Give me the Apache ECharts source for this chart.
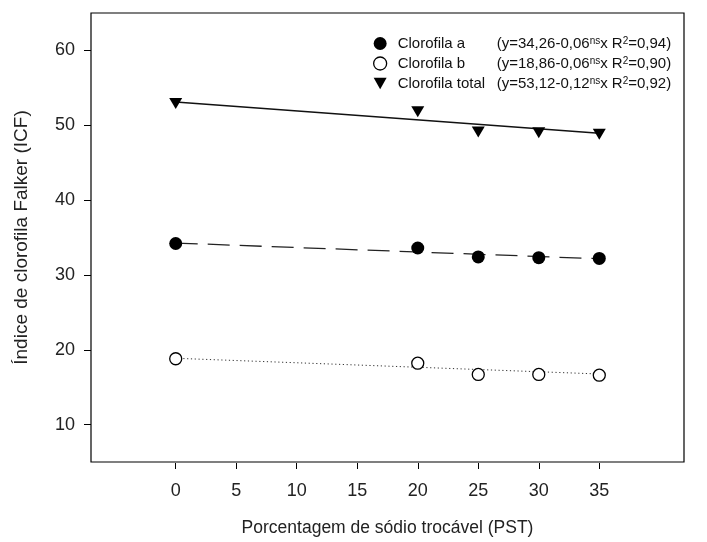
<!DOCTYPE html>
<html>
<head>
<meta charset="utf-8">
<script src="https://cdn.jsdelivr.net/npm/echarts@6/dist/echarts.min.js"></script>
<style>
  html, body { margin: 0; padding: 0; background: #fff; }
  #chart { width: 707px; height: 542px; }
</style>
</head>
<body>
<div id="chart"></div>
<script>
// Sodium percentage levels (PST)
const pst = [0, 20, 25, 30, 35];
// Falker chlorophyll index readings
const clorofilaA = [34.2, 33.6, 32.4, 32.3, 32.2];
const clorofilaB = [18.8, 18.2, 16.7, 16.7, 16.6];
const clorofilaTotal = [52.9, 51.8, 49.1, 49.0, 48.8];

// Fitted regression lines, drawn between the first and last level
const fitX = [0, 35];
const fitA = [34.26, 32.16];
const fitB = [18.86, 16.76];
const fitTotal = [53.12, 48.92];

// Axis tick labels
const xTicks = [0, 5, 10, 15, 20, 25, 30, 35];
const yTicks = [10, 20, 30, 40, 50, 60];

// Equation legend text pieces
const equations = {
  'Clorofila a': ['(y=34,26-0,06', 'x R', '=0,94)'],
  'Clorofila b': ['(y=18,86-0,06', 'x R', '=0,90)'],
  'Clorofila total': ['(y=53,12-0,12', 'x R', '=0,92)']
};

const pairs = (xs, ys) => xs.map((x, i) => [x, ys[i]]);
const FONT = 'Liberation Sans, Arial, sans-serif';
const triDown = 'path://M0,0 L10,0 L5,8.7 Z';
const openStyle = { color: '#fff', borderColor: '#000', borderWidth: 1.3, opacity: 1 };

const chart = echarts.init(document.getElementById('chart'), null, { renderer: 'canvas' });

chart.setOption({
  animation: false,
  backgroundColor: '#fff',
  textStyle: { fontFamily: FONT, color: '#000' },
  grid: {
    left: 91, top: 13, right: 23, bottom: 80,
    show: true, borderColor: '#000', borderWidth: 1.2, backgroundColor: 'transparent'
  },
  xAxis: {
    type: 'value', min: -7, max: 42,
    offset: 1,
    name: 'Porcentagem de sódio trocável (PST)',
    nameLocation: 'middle', nameGap: 56,
    nameTextStyle: { fontSize: 17.5, color: '#222', fontFamily: FONT },
    axisLine: { show: false, onZero: false },
    axisTick: { show: true, length: 6, lineStyle: { color: '#000', width: 1 }, customValues: xTicks },
    axisLabel: { customValues: xTicks, fontSize: 18, color: '#222', margin: 19, fontFamily: FONT },
    splitLine: { show: false }
  },
  yAxis: {
    type: 'value', min: 5, max: 65,
    name: 'Índice de clorofila Falker (ICF)',
    nameLocation: 'middle', nameGap: 60, nameRotate: 90,
    nameTextStyle: { fontSize: 19, color: '#222', fontFamily: FONT },
    axisLine: { show: false, onZero: false },
    axisTick: { show: true, length: 7, lineStyle: { color: '#000', width: 1 }, customValues: yTicks },
    axisLabel: { customValues: yTicks, fontSize: 18, color: '#222', margin: 16, fontFamily: FONT },
    splitLine: { show: false }
  },
  legend: {
    orient: 'vertical',
    left: 368, top: 31,
    itemGap: 5,
    itemWidth: 13, itemHeight: 13,
    data: [
      { name: 'Clorofila a', icon: 'circle', itemStyle: { color: '#000', opacity: 1 } },
      { name: 'Clorofila b', icon: 'circle', itemStyle: openStyle },
      { name: 'Clorofila total', icon: triDown, itemStyle: { color: '#000', opacity: 1 } }
    ],
    formatter: function (name) {
      const e = equations[name];
      return '{n|' + name + '}{e|' + e[0] + '}{s|ns}{e|' + e[1] + '}{s|2}{e|' + e[2] + '}';
    },
    textStyle: {
      fontFamily: FONT, color: '#111', fontSize: 15, lineHeight: 15,
      rich: {
        n: { fontSize: 15, width: 99, padding: [0, 0, 0, 6], fontFamily: FONT, color: '#111', verticalAlign: 'bottom' },
        e: { fontSize: 15, fontFamily: FONT, color: '#111', verticalAlign: 'bottom' },
        s: { fontSize: 10, fontFamily: FONT, color: '#111', verticalAlign: 'top' }
      }
    }
  },
  series: [
    {
      type: 'line', data: pairs(fitX, fitTotal), symbol: 'none', silent: true,
      lineStyle: { color: '#111', width: 1.5, type: 'solid' }, z: 2
    },
    {
      type: 'line', data: pairs(fitX, fitA), symbol: 'none', silent: true,
      lineStyle: { color: '#222', width: 1.3, type: [22, 10] }, z: 2
    },
    {
      type: 'line', data: pairs(fitX, fitB), symbol: 'none', silent: true,
      lineStyle: { color: '#333', width: 1, type: [1.2, 2.6] }, z: 2
    },
    {
      name: 'Clorofila a', type: 'scatter', data: pairs(pst, clorofilaA),
      symbol: 'circle', symbolSize: 13,
      itemStyle: { color: '#000', opacity: 1 }, z: 5
    },
    {
      name: 'Clorofila b', type: 'scatter', data: pairs(pst, clorofilaB),
      symbol: 'circle', symbolSize: 12,
      itemStyle: openStyle, z: 5
    },
    {
      name: 'Clorofila total', type: 'scatter', data: pairs(pst, clorofilaTotal),
      symbol: triDown, symbolSize: [13, 11],
      itemStyle: { color: '#000', opacity: 1 }, z: 5
    }
  ]
});
</script>
</body>
</html>
